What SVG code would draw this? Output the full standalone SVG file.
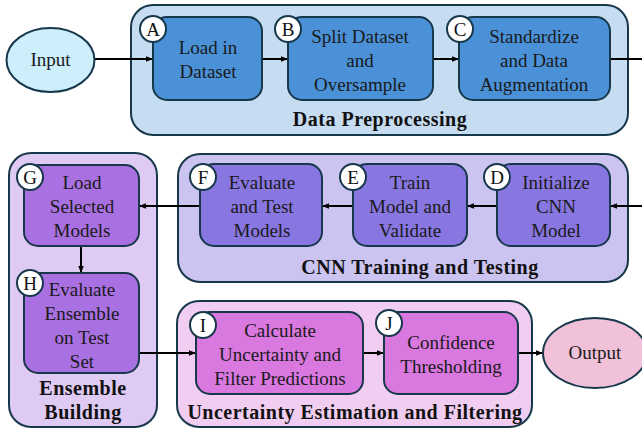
<svg xmlns="http://www.w3.org/2000/svg" width="642" height="430" viewBox="0 0 642 430">
<defs>
<marker id="ah" viewBox="0 0 10 10" refX="10" refY="5" markerWidth="7" markerHeight="7" markerUnits="userSpaceOnUse" orient="auto"><path d="M0,1 L10,5 L0,9 z" fill="#000"/></marker>
<style>
.cl{stroke:#17384a;stroke-width:2}
.nd{stroke:#17384a;stroke-width:2}
.t,.lb,.bt{font-family:"Liberation Serif","Times New Roman",serif}
.t{font-size:19px;fill:#1a1a1a;text-anchor:middle}
.lb{font-size:20px;font-weight:bold;fill:#111;text-anchor:middle;letter-spacing:0.5px}
.bd{fill:#fff;stroke:#17384a;stroke-width:2}
.bt{font-size:19px;fill:#111;text-anchor:middle}
.e{stroke:#000;stroke-width:2;fill:none;marker-end:url(#ah)}
</style>
</defs>
<rect width="642" height="430" fill="#fff"/>
<g id="cluster-preprocessing">
<rect class="cl" x="131" y="5" width="497" height="130" rx="22" fill="#c6dcf1"/>
<text class="lb" x="380" y="126">Data Preprocessing</text>
</g>
<g id="cluster-cnn">
<rect class="cl" x="178" y="154" width="450" height="128" rx="22" fill="#cbc3f0"/>
<text class="lb" x="420" y="274">CNN Training and Testing</text>
</g>
<g id="cluster-ensemble">
<rect class="cl" x="9" y="153" width="148" height="274" rx="22" fill="#dfcaf3"/>
<text class="lb" x="83" y="395">Ensemble</text>
<text class="lb" x="83" y="419">Building</text>
</g>
<g id="cluster-uncertainty">
<rect class="cl" x="177" y="301" width="355" height="126" rx="22" fill="#f1cdf1"/>
<text class="lb" x="355" y="419">Uncertainty Estimation and Filtering</text>
</g>
<g id="connectors">
<line class="e" x1="95" y1="59" x2="153" y2="59"/>
<line class="e" x1="262" y1="59" x2="288" y2="59"/>
<line class="e" x1="433" y1="59" x2="459" y2="59"/>
<line x1="610" y1="59" x2="642" y2="59" stroke="#000" stroke-width="2"/>
<line class="e" x1="642" y1="206" x2="610" y2="206"/>
<line class="e" x1="497" y1="206" x2="467" y2="206"/>
<line class="e" x1="353" y1="206" x2="322" y2="206"/>
<line class="e" x1="200" y1="206" x2="139" y2="206"/>
<line class="e" x1="81" y1="246" x2="81" y2="273"/>
<line class="e" x1="139" y1="353" x2="196" y2="353"/>
<line class="e" x1="363" y1="353" x2="384" y2="353"/>
<line class="e" x1="518" y1="353" x2="543" y2="353"/>
</g>
<g id="input">
<ellipse cx="50.5" cy="60" rx="44" ry="32" fill="#cdeefb" stroke="#17384a" stroke-width="2"/>
<text class="t" x="50.5" y="66">Input</text>
</g>
<g id="node-A">
<rect class="nd" x="153" y="17" width="109" height="83" rx="14" fill="#4a91d8"/>
<text class="t" x="208" y="54">Load in</text>
<text class="t" x="208" y="78">Dataset</text>
<circle class="bd" cx="153" cy="29" r="13"/>
<text class="bt" x="153" y="35.5">A</text>
</g>
<g id="node-B">
<rect class="nd" x="288" y="17" width="145" height="83" rx="14" fill="#4a91d8"/>
<text class="t" x="360" y="43">Split Dataset</text>
<text class="t" x="360" y="67">and</text>
<text class="t" x="360" y="91">Oversample</text>
<circle class="bd" cx="288" cy="29" r="13"/>
<text class="bt" x="288" y="35.5">B</text>
</g>
<g id="node-C">
<rect class="nd" x="459" y="17" width="151" height="83" rx="14" fill="#4a91d8"/>
<text class="t" x="534" y="43">Standardize</text>
<text class="t" x="534" y="67">and Data</text>
<text class="t" x="534" y="91">Augmentation</text>
<circle class="bd" cx="460" cy="29" r="13"/>
<text class="bt" x="460" y="35.5">C</text>
</g>
<g id="node-D">
<rect class="nd" x="497" y="164" width="113" height="82" rx="14" fill="#8876e1"/>
<text class="t" x="556" y="189">Initialize</text>
<text class="t" x="556" y="213">CNN</text>
<text class="t" x="556" y="237">Model</text>
<circle class="bd" cx="497" cy="177" r="13"/>
<text class="bt" x="497" y="183.5">D</text>
</g>
<g id="node-E">
<rect class="nd" x="353" y="164" width="114" height="82" rx="14" fill="#8876e1"/>
<text class="t" x="410" y="189">Train</text>
<text class="t" x="410" y="213">Model and</text>
<text class="t" x="410" y="237">Validate</text>
<circle class="bd" cx="353" cy="177" r="13"/>
<text class="bt" x="353" y="183.5">E</text>
</g>
<g id="node-F">
<rect class="nd" x="200" y="164" width="122" height="82" rx="14" fill="#8876e1"/>
<text class="t" x="262" y="189">Evaluate</text>
<text class="t" x="262" y="213">and Test</text>
<text class="t" x="262" y="237">Models</text>
<circle class="bd" cx="203" cy="177" r="13"/>
<text class="bt" x="203" y="183.5">F</text>
</g>
<g id="node-G">
<rect class="nd" x="24" y="165" width="115" height="81" rx="14" fill="#a970e2"/>
<text class="t" x="82" y="189">Load</text>
<text class="t" x="82" y="213">Selected</text>
<text class="t" x="82" y="237">Models</text>
<circle class="bd" cx="30" cy="177" r="13"/>
<text class="bt" x="30" y="183.5">G</text>
</g>
<g id="node-H">
<rect class="nd" x="24" y="273" width="115" height="100" rx="14" fill="#a970e2"/>
<text class="t" x="82" y="296">Evaluate</text>
<text class="t" x="82" y="320">Ensemble</text>
<text class="t" x="82" y="344">on Test</text>
<text class="t" x="82" y="368">Set</text>
<circle class="bd" cx="30" cy="283" r="13"/>
<text class="bt" x="30" y="289.5">H</text>
</g>
<g id="node-I">
<rect class="nd" x="196" y="312" width="167" height="82" rx="14" fill="#d978df"/>
<text class="t" x="280" y="337">Calculate</text>
<text class="t" x="280" y="361">Uncertainty and</text>
<text class="t" x="280" y="385">Filter Predictions</text>
<circle class="bd" cx="203" cy="325" r="13"/>
<text class="bt" x="203" y="331.5">I</text>
</g>
<g id="node-J">
<rect class="nd" x="384" y="312" width="134" height="82" rx="14" fill="#d978df"/>
<text class="t" x="451" y="349">Confidence</text>
<text class="t" x="451" y="373">Thresholding</text>
<circle class="bd" cx="389" cy="323" r="13"/>
<text class="bt" x="389" y="329.5">J</text>
</g>
<g id="output">
<ellipse cx="595" cy="353" rx="52" ry="35" fill="#f0c1d9" stroke="#17384a" stroke-width="2"/>
<text class="t" x="595" y="359">Output</text>
</g>
</svg>
